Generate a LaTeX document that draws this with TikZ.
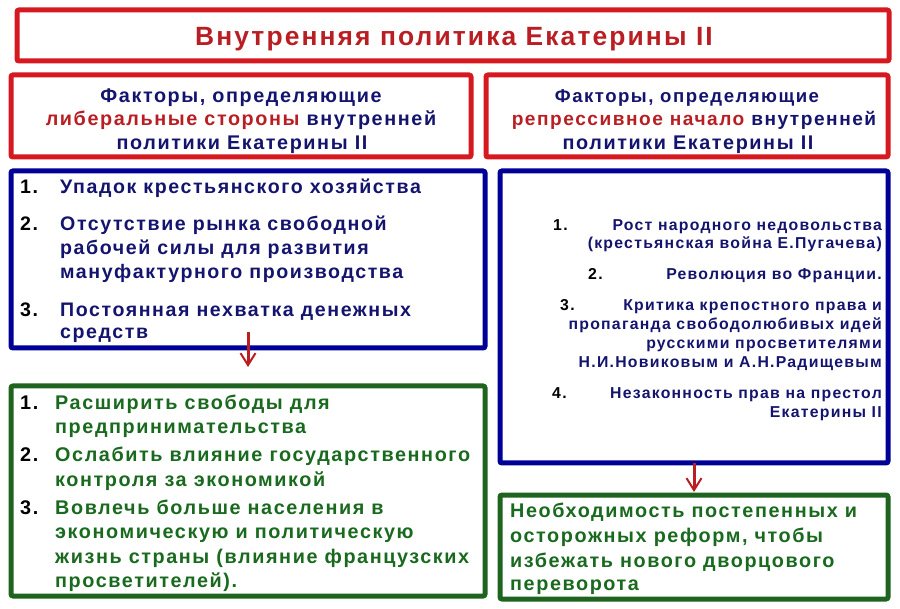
\documentclass[tikz,border=0pt]{standalone}
\usepackage{fontspec}
\setmainfont{Liberation Sans}[LetterSpace=8]
\usepackage{tikz}
\usetikzlibrary{arrows.meta}
\definecolor{boxred}{RGB}{214,24,32}
\definecolor{txtred}{RGB}{185,30,35}
\definecolor{boxblue}{RGB}{0,0,150}
\definecolor{txtblue}{RGB}{20,20,110}
\definecolor{boxgreen}{RGB}{30,100,30}
\definecolor{txtgreen}{RGB}{25,105,30}

\tikzset{
  frame/.style={draw, line width=5, rounded corners=2, inner sep=0, outer sep=0},
  redframe/.style={frame, draw=boxred},
  blueframe/.style={frame, draw=boxblue},
  greenframe/.style={frame, draw=boxgreen},
  txt/.style={inner sep=0, font=\fontsize{19.6}{23}\selectfont\bfseries},
  head/.style={inner sep=0, font=\fontsize{19.8}{23}\selectfont\bfseries, text=txtblue},
  small/.style={inner sep=0, font=\fontsize{15.8}{19}\selectfont\bfseries, text=txtblue},
  big/.style={inner sep=0, font=\fontsize{19.8}{23}\selectfont\bfseries, text=txtgreen},
  num/.style={inner sep=0, anchor=mid west, text=black},
  arr/.style={line width=3, draw=txtred, -{Straight Barb[length=12, width=15, line width=2]}}
}

\begin{document}
\begin{tikzpicture}[x=1pt, y=-1pt]
\useasboundingbox (0,0) rectangle (900,609);

% Frames
\node[redframe, minimum width=872, minimum height=51] (title) at (453,35.5) {};
\node[redframe, minimum width=460, minimum height=82] (lhead) at (241,116) {};
\node[redframe, minimum width=402, minimum height=82] (rhead) at (687,116) {};
\node[blueframe, minimum width=474, minimum height=177] (lcause) at (248,259.5) {};
\node[blueframe, minimum width=388, minimum height=292] (rcause) at (694,317) {};
\node[greenframe, minimum width=474, minimum height=210] (lresult) at (248,491) {};
\node[greenframe, minimum width=388, minimum height=104] (rresult) at (694,547) {};

\begin{scope}[yshift=-2.5]
% Title
\node[inner sep=0, font=\fontsize{26.4}{30}\selectfont\bfseries, text=txtred] (ttl) at (454,37) {Внутренняя политика Екатерины II};

% Left header
\node[head] (lh1) at (241,95) {Факторы, определяющие};
\node[head] (lh2) at (241,118) {{\color{txtred}либеральные стороны} внутренней};
\node[head] (lh3) at (242,142) {политики Екатерины II};

% Right header
\node[head, font=\fontsize{18.6}{23}\selectfont\bfseries] (rh1) at (687,95) {Факторы, определяющие};
\node[head, font=\fontsize{19.1}{23}\selectfont\bfseries] (rh2) at (694,118) {{\color{txtred}репрессивное начало} внутренней};
\node[head] (rh3) at (688,142) {политики Екатерины II};

% Left causes
\node[txt, num] (ln1) at (20,188) {1.};
\node[txt, text=txtblue, anchor=mid west] (lc1) at (60,188) {Упадок крестьянского хозяйства};
\node[txt, num] (ln2) at (20,225) {2.};
\node[txt, text=txtblue, anchor=mid west] (lc2) at (60,225) {Отсутствие рынка свободной};
\node[txt, text=txtblue, anchor=mid west] (lc3) at (60,249) {рабочей силы для развития};
\node[txt, text=txtblue, anchor=mid west] (lc4) at (60,273) {мануфактурного производства};
\node[txt, num] (ln3) at (20,311) {3.};
\node[txt, text=txtblue, anchor=mid west] (lc5) at (60,311) {Постоянная нехватка денежных};
\node[txt, text=txtblue, anchor=mid west] (lc6) at (60,333) {средств};

% Right causes
\node[small, num] (rn1) at (553,225) {1.};
\node[small, anchor=mid east] (rc1) at (882,225) {Рост народного недовольства};
\node[small, anchor=mid east] (rc2) at (882,243) {(крестьянская война Е.Пугачева)};
\node[small, num] (rn2) at (588,274) {2.};
\node[small, anchor=mid east] (rc3) at (882,274) {Революция во Франции.};
\node[small, num] (rn3) at (560,305) {3.};
\node[small, anchor=mid east] (rc4) at (882,305) {Критика крепостного права и};
\node[small, anchor=mid east] (rc5) at (882,324) {пропаганда свободолюбивых идей};
\node[small, anchor=mid east] (rc6) at (882,343) {русскими просветителями};
\node[small, anchor=mid east] (rc7) at (882,362) {Н.И.Новиковым и А.Н.Радищевым};
\node[small, num] (rn4) at (552,393) {4.};
\node[small, anchor=mid east] (rc8) at (882,393) {Незаконность прав на престол};
\node[small, anchor=mid east] (rc9) at (882,412) {Екатерины II};

% Left results
\node[big, num] (gn1) at (20,404) {1.};
\node[big, anchor=mid west] (lr1) at (55,404) {Расширить свободы для};
\node[big, anchor=mid west] (lr2) at (55,428) {предпринимательства};
\node[big, num] (gn2) at (20,456) {2.};
\node[big, anchor=mid west] (lr3) at (55,456) {Ослабить влияние государственного};
\node[big, anchor=mid west] (lr4) at (55,481) {контроля за экономикой};
\node[big, num] (gn3) at (20,509) {3.};
\node[big, anchor=mid west] (lr5) at (55,509) {Вовлечь больше населения в};
\node[big, anchor=mid west] (lr6) at (55,533) {экономическую и политическую};
\node[big, anchor=mid west] (lr7) at (55,558) {жизнь страны (влияние французских};
\node[big, anchor=mid west] (lr8) at (55,582) {просветителей).};

% Right result
\node[big, anchor=mid west] (rr1) at (510,512) {Необходимость постепенных и};
\node[big, anchor=mid west] (rr2) at (510,537) {осторожных реформ, чтобы};
\node[big, anchor=mid west] (rr3) at (510,562) {избежать нового дворцового};
\node[big, anchor=mid west] (rr4) at (510,585) {переворота};
\end{scope}

% Arrows
\draw[arr] ([yshift=16]lcause.south) -- ([yshift=19]lresult.north);
\draw[arr] (rcause.south) -- ([yshift=3]rresult.north);
\end{tikzpicture}
\end{document}
